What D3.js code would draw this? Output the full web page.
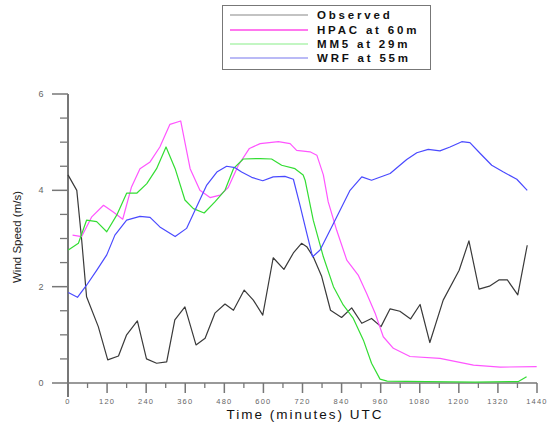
<!DOCTYPE html>
<html>
<head>
<meta charset="utf-8">
<script src="https://cdn.jsdelivr.net/npm/d3@7"></script>
<style>
  body { margin: 0; background: #fff; }
  svg { display: block; font-family: "Liberation Sans", Arial, sans-serif; }
</style>
</head>
<body>
<svg id="chart" width="557" height="423"></svg>
<script>
// series: [minutes, wind speed m/s]
const observed = [[0,4.32],[27,4.0],[42,2.97],[57,1.79],[93,1.17],[122,0.48],[155,0.56],[180,1.0],[213,1.29],[241,0.5],[272,0.41],[303,0.44],[328,1.31],[359,1.58],[393,0.79],[421,0.93],[451,1.45],[482,1.64],[508,1.51],[541,1.93],[569,1.72],[598,1.41],[630,2.6],[663,2.36],[692,2.7],[717,2.9],[733,2.83],[753,2.62],[779,2.21],[806,1.51],[840,1.36],[871,1.56],[902,1.24],[932,1.34],[961,1.17],[989,1.54],[1019,1.49],[1052,1.33],[1081,1.63],[1111,0.84],[1152,1.72],[1201,2.34],[1231,2.95],[1262,1.95],[1294,2.01],[1323,2.14],[1349,2.14],[1381,1.83],[1410,2.86]];
const hpac = [[14,3.07],[42,3.04],[73,3.45],[109,3.69],[139,3.55],[168,3.4],[195,4.07],[221,4.45],[252,4.59],[282,4.9],[313,5.37],[346,5.44],[375,4.45],[405,4.0],[436,3.85],[467,3.9],[492,4.06],[523,4.52],[557,4.87],[590,4.97],[646,5.01],[682,4.97],[702,4.83],[743,4.8],[764,4.73],[784,4.32],[799,3.76],[825,3.17],[856,2.55],[891,2.24],[917,1.86],[943,1.45],[968,0.96],[999,0.72],[1050,0.55],[1142,0.51],[1245,0.37],[1327,0.33],[1439,0.34]];
const mm5 = [[1,2.76],[32,2.9],[57,3.38],[88,3.35],[119,3.14],[150,3.49],[180,3.94],[211,3.94],[242,4.14],[272,4.45],[301,4.9],[329,4.45],[359,3.8],[385,3.62],[418,3.53],[451,3.76],[482,4.0],[508,4.45],[538,4.65],[590,4.66],[625,4.65],[656,4.52],[697,4.45],[722,4.32],[728,4.21],[753,3.38],[784,2.62],[815,2.0],[845,1.62],[876,1.34],[907,0.89],[932,0.41],[958,0.08],[980,0.04],[1100,0.03],[1250,0.02],[1383,0.03],[1408,0.13]];
const wrf = [[1,1.88],[29,1.78],[57,2.03],[88,2.34],[119,2.66],[144,3.07],[180,3.38],[221,3.46],[252,3.44],[282,3.24],[329,3.04],[364,3.21],[395,3.66],[426,4.11],[457,4.38],[487,4.5],[513,4.47],[533,4.38],[564,4.27],[598,4.2],[630,4.28],[666,4.29],[692,4.23],[712,3.7],[733,3.11],[751,2.62],[774,2.76],[815,3.31],[866,4.0],[902,4.28],[932,4.21],[989,4.35],[1040,4.64],[1071,4.78],[1106,4.85],[1142,4.82],[1173,4.9],[1209,5.01],[1234,4.99],[1265,4.77],[1301,4.52],[1337,4.38],[1378,4.23],[1410,4.0]];

const seriesNames = ["Observed", "HPAC at 60m", "MM5 at 29m", "WRF at 55m"];
const seriesData = [observed, hpac, mm5, wrf];
const lineColors = ["#3a3a3a", "#ff55ff", "#33dd33", "#4a4aff"];
const legendColors = ["#888888", "#ff77ee", "#88ee88", "#7777ee"];
const xTicks = [0,120,240,360,480,600,720,840,960,1080,1200,1320,1440];
const yTicks = [0,2,4,6];

const svg = d3.select("#chart");

const x = d3.scaleLinear().domain([0, 1440]).range([68, 537]);
const y = d3.scaleLinear().domain([0, 6]).range([383, 94]);

const axisColor = "#777";

// x axis
const xAxis = svg.append("g").attr("transform", "translate(0,383)");
xAxis.append("line").attr("x1", 68).attr("x2", 537)
  .attr("stroke", axisColor).attr("stroke-width", 1.5);
xAxis.selectAll("line.minor").data(d3.range(60, 1440, 120)).join("line")
  .attr("class", "minor")
  .attr("x1", d => x(d)).attr("x2", d => x(d)).attr("y1", 0).attr("y2", 5)
  .attr("stroke", axisColor).attr("stroke-width", 1.3);
xAxis.selectAll("line.major").data(xTicks).join("line")
  .attr("class", "major")
  .attr("x1", d => x(d)).attr("x2", d => x(d)).attr("y1", 0).attr("y2", 10)
  .attr("stroke", axisColor).attr("stroke-width", 1.5);
xAxis.selectAll("text").data(xTicks).join("text")
  .attr("x", d => x(d)).attr("y", 21)
  .attr("text-anchor", "middle")
  .attr("font-size", 7.5).attr("letter-spacing", 1.2)
  .attr("fill", "#666")
  .text(d => d);

// y axis
const yAxis = svg.append("g").attr("transform", "translate(68,0)");
yAxis.append("line").attr("y1", 94).attr("y2", 397)
  .attr("stroke", axisColor).attr("stroke-width", 2);
yAxis.selectAll("line.minor").data(d3.range(0.5, 6, 0.5).filter(v => v % 2 !== 0)).join("line")
  .attr("class", "minor")
  .attr("y1", d => y(d)).attr("y2", d => y(d)).attr("x1", 0).attr("x2", -8)
  .attr("stroke", axisColor).attr("stroke-width", 1.3);
yAxis.selectAll("line.major").data(yTicks).join("line")
  .attr("class", "major")
  .attr("y1", d => y(d)).attr("y2", d => y(d)).attr("x1", 0).attr("x2", -16)
  .attr("stroke", axisColor).attr("stroke-width", 1.5);
yAxis.selectAll("text").data(yTicks).join("text")
  .attr("x", -27).attr("y", d => y(d) + 3)
  .attr("text-anchor", "middle")
  .attr("font-size", 9).attr("fill", "#666")
  .text(d => d);

// axis titles
svg.append("text")
  .attr("x", 305).attr("y", 419)
  .attr("text-anchor", "middle")
  .attr("font-size", 13.5).attr("letter-spacing", 2)
  .attr("fill", "#111")
  .text("Time (minutes) UTC");

svg.append("text")
  .attr("transform", "translate(21,237) rotate(-90)")
  .attr("text-anchor", "middle")
  .attr("font-size", 11.5).attr("fill", "#222")
  .text("Wind Speed (m/s)");

// lines
const line = d3.line().x(d => x(d[0])).y(d => y(d[1]));
svg.append("g").selectAll("path").data(seriesData).join("path")
  .attr("d", line)
  .attr("fill", "none")
  .attr("stroke", (d, i) => lineColors[i])
  .attr("stroke-width", 1.2)
  .attr("stroke-linejoin", "round");

// legend
const legend = svg.append("g");
legend.append("rect")
  .attr("x", 222.5).attr("y", 5.5).attr("width", 208).attr("height", 64)
  .attr("fill", "#fff").attr("stroke", "#777").attr("stroke-width", 1);
const rowY = [15, 30, 44, 58];
const items = legend.selectAll("g.item").data(seriesNames).join("g")
  .attr("class", "item")
  .attr("transform", (d, i) => `translate(0,${rowY[i]})`);
items.append("line")
  .attr("x1", 230).attr("x2", 308)
  .attr("stroke", (d, i) => legendColors[i])
  .attr("stroke-width", (d, i) => i === 1 ? 2 : 1.2);
items.append("text")
  .attr("x", 317).attr("y", 4)
  .attr("font-size", 11.5).attr("font-weight", "bold")
  .attr("letter-spacing", 2.8)
  .attr("fill", "#111")
  .text(d => d);
</script>
</body>
</html>
